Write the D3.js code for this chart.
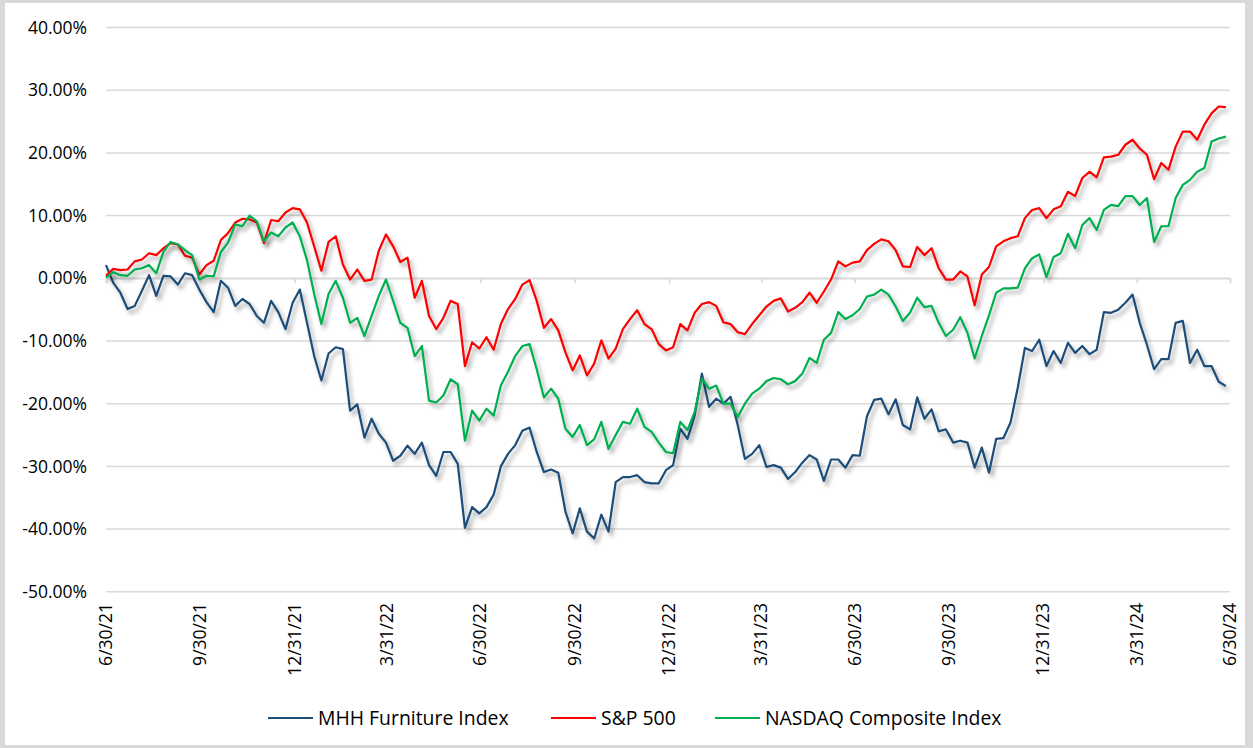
<!DOCTYPE html>
<html><head><meta charset="utf-8">
<script src="https://cdn.jsdelivr.net/npm/d3@7"></script>
<style>body{margin:0;background:#fff;} svg{display:block;}</style>
</head><body>
<svg id="chart" width="1253" height="748"></svg>
<script>
// ---------- data ----------
const startDate = "2021-06-30"; // weekly observations start
const seriesNames = ["MHH Furniture Index", "S&P 500", "NASDAQ Composite Index"];
const seriesColors = ["#1f4e79", "#ff0000", "#00b050"];
const tickDates = ["2021-06-30","2021-09-30","2021-12-31","2022-03-31","2022-06-30","2022-09-30","2022-12-31","2023-03-31","2023-06-30","2023-09-30","2023-12-31","2024-03-31","2024-06-30"];
const tickLabels = ["6/30/21","9/30/21","12/31/21","3/31/22","6/30/22","9/30/22","12/31/22","3/31/23","6/30/23","9/30/23","12/31/23","3/31/24","6/30/24"];
const yTicks = [40, 30, 20, 10, 0, -10, -20, -30, -40, -50];

const mhh = [2.1,-0.7,-2.3,-4.9,-4.4,-2.0,0.5,-2.8,0.4,0.3,
-1.0,0.8,0.5,-1.8,-3.8,-5.4,-0.4,-1.5,-4.4,-3.3,
-4.1,-6.0,-7.1,-3.6,-5.4,-8.1,-3.9,-1.8,-7.1,-12.4,
-16.3,-12.0,-11.0,-11.3,-21.1,-20.1,-25.4,-22.4,-24.8,-26.2,
-29.1,-28.3,-26.7,-28.0,-26.2,-29.8,-31.5,-27.7,-27.7,-29.6,
-39.8,-36.5,-37.5,-36.5,-34.5,-30.0,-28.0,-26.6,-24.3,-23.8,
-27.7,-30.9,-30.5,-31.0,-37.2,-40.7,-36.7,-40.4,-41.5,-37.7,
-40.4,-32.5,-31.7,-31.7,-31.4,-32.5,-32.7,-32.7,-30.6,-29.8,
-24.0,-25.6,-21.9,-15.2,-20.5,-19.2,-20.0,-18.9,-23.4,-28.8,
-28.0,-26.6,-30.1,-29.8,-30.2,-32.0,-30.9,-29.4,-28.2,-28.9,
-32.3,-28.9,-28.9,-30.2,-28.2,-28.3,-22.0,-19.4,-19.2,-21.7,
-19.3,-23.4,-24.1,-19.0,-22.4,-20.9,-24.4,-24.1,-26.2,-25.9,
-26.2,-30.2,-27.0,-31.0,-25.6,-25.5,-23.0,-17.5,-11.1,-11.6,
-9.8,-14.0,-11.6,-13.5,-10.3,-11.9,-10.8,-12.1,-11.4,-5.4,
-5.5,-5.0,-3.9,-2.6,-7.1,-10.6,-14.5,-12.9,-12.9,-7.1,
-6.8,-13.5,-11.4,-14.0,-14.0,-16.5,-17.2];

const sp500 = [0.4,1.5,1.3,1.4,2.7,3.0,4.0,3.7,4.8,5.6,
5.4,3.6,3.3,0.6,2.1,2.8,6.1,7.2,8.9,9.5,
9.4,8.9,5.6,9.3,9.1,10.5,11.2,11.0,8.9,5.1,
1.2,5.8,6.7,2.2,-0.2,1.4,-0.4,-0.2,4.4,7.0,
5.1,2.6,3.3,-3.1,-0.4,-6.0,-8.1,-6.3,-3.6,-4.1,
-14.0,-10.2,-11.2,-9.4,-11.4,-7.3,-4.9,-3.3,-1.0,-0.3,
-3.6,-7.9,-6.5,-8.3,-11.8,-14.7,-12.3,-15.5,-13.6,-9.9,
-12.8,-11.2,-8.1,-6.5,-5.1,-7.3,-8.1,-10.5,-11.5,-11.0,
-7.3,-8.3,-5.5,-4.1,-3.8,-4.4,-7.0,-7.3,-8.6,-8.9,
-7.3,-5.9,-4.5,-3.6,-3.2,-5.3,-4.7,-3.8,-2.3,-3.9,
-2.1,-0.2,2.7,1.9,2.5,2.7,4.5,5.5,6.2,5.9,
4.5,1.9,1.8,5.0,3.7,4.8,1.6,-0.2,-0.2,1.1,
0.3,-4.3,0.6,1.8,5.1,5.9,6.4,6.7,9.6,10.9,
11.2,9.6,11.0,11.5,13.8,13.1,16.0,17.0,16.1,19.3,
19.4,19.7,21.3,22.1,20.7,19.7,15.8,18.4,17.3,21.0,
23.4,23.4,22.1,24.5,26.3,27.4,27.3];

const nasdaq = [0.1,1.0,0.5,0.4,1.4,1.6,2.1,0.8,4.2,5.8,
5.4,4.5,3.7,-0.2,0.4,0.3,4.2,5.7,8.6,8.3,
10.0,9.1,5.9,7.3,6.7,8.1,8.9,6.7,2.9,-2.5,
-7.3,-2.5,-0.4,-3.1,-7.1,-6.3,-9.2,-6.0,-2.8,-0.2,
-3.6,-7.1,-7.9,-12.4,-10.8,-19.5,-19.8,-18.7,-16.1,-16.9,
-25.9,-21.1,-22.7,-20.8,-21.9,-17.1,-14.9,-12.4,-10.8,-10.5,
-14.5,-19.0,-17.6,-19.2,-24.0,-25.3,-23.4,-26.6,-25.7,-22.9,
-27.2,-25.0,-22.9,-23.2,-20.8,-23.7,-24.5,-26.2,-27.7,-27.9,
-22.9,-24.2,-21.3,-16.0,-17.6,-17.1,-20.0,-20.0,-22.1,-20.0,
-18.4,-17.6,-16.4,-15.9,-16.1,-16.9,-16.4,-15.2,-12.7,-13.5,
-9.8,-8.7,-5.4,-6.5,-5.9,-4.9,-2.9,-2.6,-1.8,-2.6,
-4.5,-6.8,-5.5,-3.1,-4.6,-4.4,-7.1,-9.2,-8.2,-6.2,
-8.7,-12.8,-9.2,-5.9,-2.3,-1.6,-1.6,-1.5,1.6,3.2,
3.8,0.2,3.4,4.0,7.1,4.8,8.5,9.6,7.7,10.9,
11.7,11.5,13.1,13.1,11.7,12.8,5.8,8.3,8.3,12.8,
14.9,15.7,17.0,17.6,21.8,22.3,22.6];

// ---------- chart ----------
const W = 1253, H = 748;
const svg = d3.select("#chart");
const parse = d3.timeParse("%Y-%m-%d");
const start = parse(startDate);
const dates = mhh.map((_, i) => d3.timeDay.offset(start, 7 * i));
const series = [mhh, sp500, nasdaq];

// frame
svg.append("rect").attr("width", W).attr("height", H).attr("fill", "#d9d9d9");
svg.append("rect").attr("x", 5).attr("y", 3).attr("width", 1240).attr("height", 742).attr("fill", "#ffffff");

const defs = svg.append("defs");
const f = defs.append("filter").attr("id", "shadow")
  .attr("filterUnits", "userSpaceOnUse").attr("x", 0).attr("y", 0).attr("width", W).attr("height", H);
f.append("feDropShadow").attr("dx", 3).attr("dy", 4).attr("stdDeviation", 2)
  .attr("flood-color", "#000").attr("flood-opacity", 0.35);

const x = d3.scaleTime().domain([parse(tickDates[0]), parse(tickDates[tickDates.length - 1])]).range([106, 1230]);
const y = d3.scaleLinear().domain([-50, 40]).range([591.8, 27.5]);

// gridlines
svg.append("g").selectAll("line").data(yTicks).join("line")
  .attr("x1", 106).attr("x2", 1230)
  .attr("y1", d => y(d)).attr("y2", d => y(d))
  .attr("stroke", "#d9d9d9").attr("stroke-width", 1.5);

// y labels
svg.append("g").selectAll("text").data(yTicks).join("text")
  .attr("x", 87).attr("y", d => y(d)).attr("dy", "0.35em")
  .attr("text-anchor", "end")
  .attr("font-family", "'Open Sans', sans-serif").attr("font-size", 17.5).attr("fill", "#000")
  .text(d => d.toFixed(2) + "%");

// category axis at 0 with tick marks
const xAxis = d3.axisBottom(x).tickValues(tickDates.map(parse)).tickSize(5).tickFormat("");
const gx = svg.append("g").attr("transform", `translate(0,${y(0)})`).call(xAxis);
gx.select(".domain").attr("stroke", "#d9d9d9").attr("stroke-width", 1.5);
gx.selectAll(".tick line").attr("stroke", "#d9d9d9").attr("stroke-width", 1.5);

// x labels at bottom, rotated
svg.append("g").selectAll("text").data(tickDates).join("text")
  .attr("transform", (d) => `translate(${x(parse(d))},603) rotate(-90)`)
  .attr("dy", "0.35em").attr("text-anchor", "end")
  .attr("font-family", "'Open Sans', sans-serif").attr("font-size", 17.5).attr("fill", "#000")
  .text((d, i) => tickLabels[i]);

// lines
const line = d3.line().x((d, i) => x(dates[i])).y(d => y(d));
svg.append("g").selectAll("path").data(series).join("path")
  .attr("d", d => line(d))
  .attr("fill", "none")
  .attr("stroke", (d, i) => seriesColors[i])
  .attr("stroke-width", 2.2)
  .attr("stroke-linejoin", "round")
  .attr("filter", "url(#shadow)");

// legend
const legX = [268, 551, 715];
const lg = svg.append("g");
seriesNames.forEach((n, i) => {
  lg.append("line").attr("x1", legX[i]).attr("x2", legX[i] + 45).attr("y1", 718).attr("y2", 718)
    .attr("stroke", seriesColors[i]).attr("stroke-width", 2);
  lg.append("text").attr("x", legX[i] + 50).attr("y", 718).attr("dy", "0.35em")
    .attr("font-family", "'Open Sans', sans-serif").attr("font-size", 19.4).attr("fill", "#000")
    .text(n);
});
</script>
</body></html>
